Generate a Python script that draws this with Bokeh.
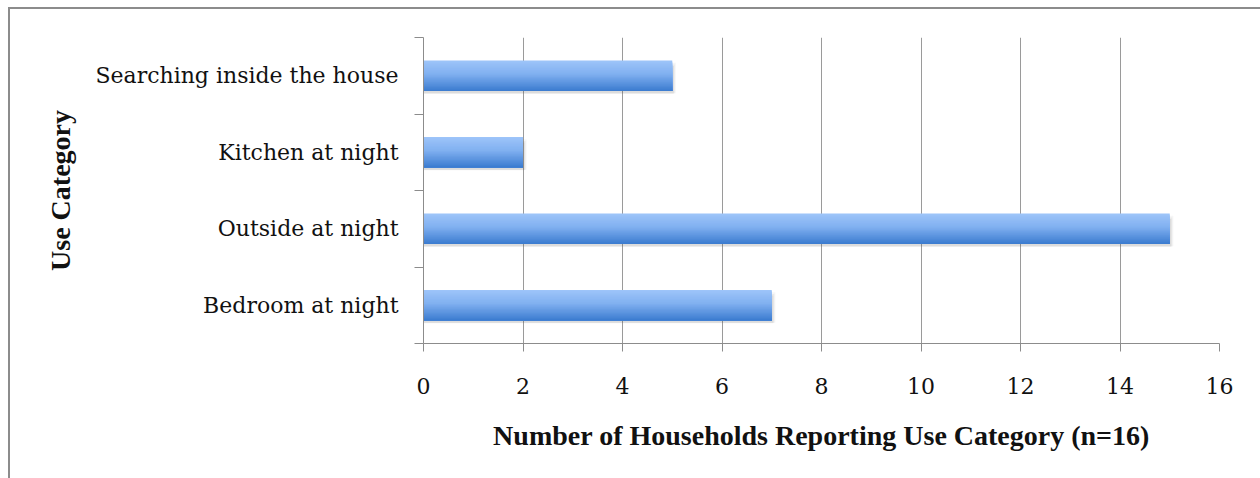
from bokeh.plotting import figure
from bokeh.models import (Range1d, FixedTicker, ColumnDataSource,
                          InlineStyleSheet)
from bokeh.transform import dodge
from bokeh.embed import file_html
from bokeh.resources import INLINE

# ---- data ----
categories = ["Bedroom at night", "Outside at night", "Kitchen at night",
              "Searching inside the house"]
households = [7, 15, 2, 5]
x_ticks = [0, 2, 4, 6, 8, 10, 12, 14, 16]
x_title = "Number of Households Reporting Use Category (n=16)"
y_title = "Use Category"

GRAY = "#8c8c8c"
GRID = "#9a9a9a"
LABEL_FONT = "DejaVu Serif"
TITLE_FONT = "Liberation Serif"

n = len(categories)
slot = [i + 0.5 for i in range(n)]          # category centres on the band scale
bounds = list(range(n + 1))                 # category band boundaries
src = ColumnDataSource(dict(cat=categories, y=slot, val=households))

p = figure(width=1260, height=478, output_backend="svg", toolbar_location=None,
           x_range=Range1d(x_ticks[0], x_ticks[-1]),
           y_range=Range1d(0, n),
           min_border_left=423, min_border_right=41,
           min_border_top=37, min_border_bottom=135)

p.border_fill_color = None
p.background_fill_color = None
p.outline_line_color = None
p.stylesheets = [InlineStyleSheet(css=(
    ":host { background: "
    "linear-gradient(#8c8c8c,#8c8c8c) 8px 7px / 2px 100% no-repeat, "
    "linear-gradient(#8c8c8c,#8c8c8c) 8px 7px / 100% 2px no-repeat, #ffffff; }"))]

# grid
p.ygrid.grid_line_color = None
p.xgrid.ticker = FixedTicker(ticks=x_ticks)
p.xgrid.grid_line_color = GRID
p.xgrid.grid_line_width = 1

# x axis
xa = p.xaxis[0]
xa.ticker = FixedTicker(ticks=x_ticks)
xa.axis_line_color = GRAY
xa.major_tick_line_color = GRAY
xa.minor_tick_line_color = None
xa.major_tick_out = 8
xa.major_tick_in = 0
xa.major_label_text_font = LABEL_FONT
xa.major_label_text_font_size = "22px"
xa.major_label_text_color = "#111111"
xa.major_label_standoff = 26
xa.axis_label = x_title
xa.axis_label_text_font = TITLE_FONT
xa.axis_label_text_font_style = "bold"
xa.axis_label_text_font_size = "28px"
xa.axis_label_text_color = "#111111"
xa.axis_label_standoff = 23

# y axis: labels at band centres, ticks (minor) at band boundaries
ya = p.yaxis[0]
ya.ticker = FixedTicker(ticks=slot, minor_ticks=bounds)
ya.major_label_overrides = {s: c for s, c in zip(slot, categories)}
ya.axis_line_color = GRAY
ya.major_tick_line_color = None
ya.major_tick_out = 9
ya.major_tick_in = 0
ya.minor_tick_line_color = GRAY
ya.minor_tick_out = 9
ya.minor_tick_in = 0
ya.major_label_standoff = 16
ya.major_label_text_font = LABEL_FONT
ya.major_label_text_font_size = "22px"
ya.major_label_text_color = "#111111"
ya.axis_label = y_title
ya.axis_label_text_font = TITLE_FONT
ya.axis_label_text_font_style = "bold"
ya.axis_label_text_font_size = "28px"
ya.axis_label_text_color = "#111111"
ya.axis_label_standoff = 16

# bars: soft shadow + vertical gradient
BAR_H = 0.4
for k, a in enumerate([0.05, 0.07, 0.09]):
    p.hbar(y=dodge("y", -0.03 - 0.012 * k), left=0,
           right=dodge("val", 0.03 + 0.02 * (2 - k)), height=BAR_H - 0.02 * k,
           source=src, fill_color="#555555", fill_alpha=a, line_color=None)

stops = [(0.0, (0x9E, 0xC5, 0xF9)), (0.45, (0x80, 0xB0, 0xF0)),
         (1.0, (0x3A, 0x7B, 0xCF))]

def col(t):
    for (t0, c0), (t1, c1) in zip(stops[:-1], stops[1:]):
        if t <= t1:
            f = (t - t0) / (t1 - t0)
            return "#%02x%02x%02x" % tuple(int(round(c0[j] + (c1[j] - c0[j]) * f)) for j in range(3))
    return "#%02x%02x%02x" % stops[-1][1]

N = 24
hs = BAR_H / N
for i in range(N):
    h = BAR_H - i * hs                      # layer spans from its top to the bar bottom
    off = -BAR_H / 2 + h / 2
    p.hbar(y=dodge("y", off), left=0, right="val",
           height=h, source=src, fill_color=col((i + 0.5) / N),
           line_color=None)

open("out.html", "w").write(file_html(p, INLINE))
